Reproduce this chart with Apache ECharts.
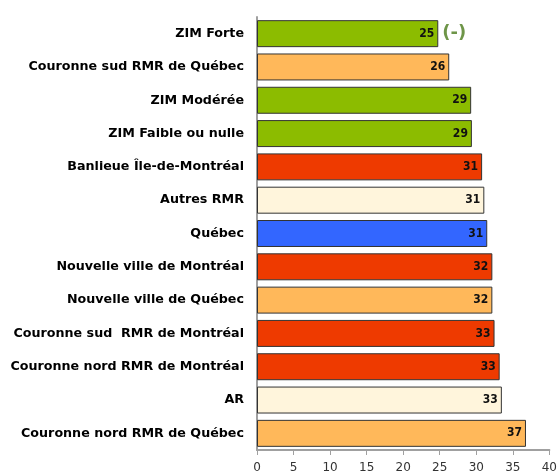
<!DOCTYPE html>
<html lang="fr">
<head>
    <meta charset="UTF-8">
    <title>Chart</title>
    <script src="https://cdn.jsdelivr.net/npm/echarts@6/dist/echarts.min.js"></script>
    <style>
        html, body { margin: 0; padding: 0; background: #fff; }
        #main { width: 560px; height: 475px; }
    </style>
</head>
<body>
<div id="main"></div>
<script>
    // categories, top to bottom
    var categories = [
        'ZIM Forte',
        'Couronne sud RMR de Québec',
        'ZIM Modérée',
        'ZIM Faible ou nulle',
        'Banlieue Île-de-Montréal',
        'Autres RMR',
        'Québec',
        'Nouvelle ville de Montréal',
        'Nouvelle ville de Québec',
        'Couronne sud  RMR de Montréal',
        'Couronne nord RMR de Montréal',
        'AR',
        'Couronne nord RMR de Québec'
    ];
    var values = [24.8, 26.3, 29.3, 29.4, 30.8, 31.1, 31.5, 32.2, 32.2, 32.5, 33.2, 33.5, 36.8];
    var labels = ['25', '26', '29', '29', '31', '31', '31', '32', '32', '33', '33', '33', '37'];
    var notes = ['(-)', '', '', '', '', '', '', '', '', '', '', '', ''];
    var barColors = ['#8cbc00', '#ffb85a', '#8cbc00', '#8cbc00', '#ee3a00', '#fff5dc', '#3366ff',
        '#ee3a00', '#ffb85a', '#ee3a00', '#ee3a00', '#fff5dc', '#ffb85a'];
    var xTicks = [0, 5, 10, 15, 20, 25, 30, 35, 40];

    var myChart = echarts.init(document.getElementById('main'));

    var barData = values.map(function (v, i) {
        return { value: v, itemStyle: { color: barColors[i] } };
    });
    var noteData = [];
    notes.forEach(function (n, i) {
        if (n) noteData.push({ value: [values[i], categories[i]], note: n });
    });

    var option = {
        animation: false,
        backgroundColor: '#fff',
        grid: { left: 257, right: 8, top: 17, bottom: 25, containLabel: false },
        xAxis: {
            type: 'value',
            min: xTicks[0],
            max: xTicks[xTicks.length - 1],
            interval: 5,
            splitLine: { show: false },
            axisLine: { show: true, lineStyle: { color: '#a0a0a0', width: 2 } },
            axisTick: { show: true, length: 5, lineStyle: { color: '#a0a0a0' } },
            axisLabel: { color: '#333', fontFamily: 'DejaVu Sans', fontSize: 12, margin: 12 }
        },
        yAxis: {
            type: 'category',
            inverse: true,
            data: categories,
            axisLine: { show: true, lineStyle: { color: '#a0a0a0', width: 2 } },
            axisTick: { show: false },
            axisLabel: {
                color: '#000', fontFamily: 'DejaVu Sans', fontWeight: 'bold',
                fontSize: 12.7, margin: 13
            }
        },
        series: [
            {
                type: 'bar',
                data: barData,
                barCategoryGap: '19%',
                itemStyle: { borderColor: '#333', borderWidth: 1 },
                label: {
                    show: true,
                    position: 'insideRight',
                    distance: 4,
                    color: '#111',
                    fontFamily: 'DejaVu Sans Condensed, DejaVu Sans, sans-serif',
                    fontWeight: 'bold',
                    fontSize: 12,
                    formatter: function (p) { return labels[p.dataIndex]; }
                }
            },
            {
                type: 'scatter',
                data: noteData,
                symbolSize: 0,
                silent: true,
                label: {
                    show: true,
                    position: 'right',
                    distance: 4,
                    color: '#4a7a1a',
                    fontFamily: 'DejaVu Sans',
                    fontWeight: 'bold',
                    fontSize: 18,
                    formatter: function (p) { return p.data.note; }
                }
            }
        ]
    };

    myChart.setOption(option);
</script>
</body>
</html>
